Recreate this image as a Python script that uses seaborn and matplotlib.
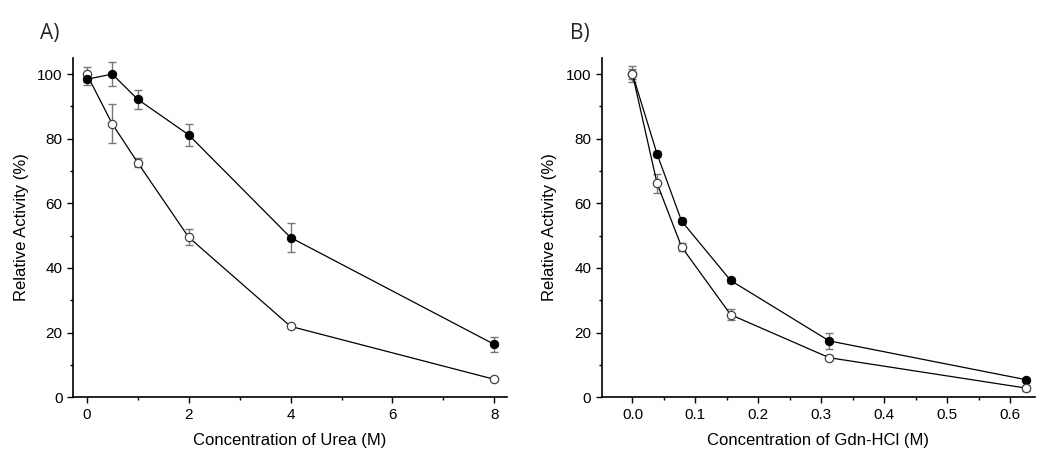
import numpy as np
import pandas as pd
import matplotlib
matplotlib.use("Agg")
import matplotlib.pyplot as plt
from matplotlib.ticker import MultipleLocator
import seaborn as sns

# ---- data ----
urea_conc = [0, 0.5, 1, 2, 4, 8]
urea_filled = [98.4, 100.0, 92.2, 81.2, 49.4, 16.3]
urea_filled_err = [1.8, 3.7, 3.0, 3.5, 4.6, 2.2]
urea_open = [100.0, 84.6, 72.6, 49.5, 21.9, 5.5]
urea_open_err = [2.3, 6.0, 1.4, 2.4, 0.5, 0.5]

gdn_conc = [0, 0.039, 0.078, 0.156, 0.3125, 0.625]
gdn_filled = [100.0, 75.3, 54.5, 36.1, 17.4, 5.4]
gdn_filled_err = [1.5, 1.0, 0.8, 0.8, 2.6, 0.5]
gdn_open = [100.0, 66.2, 46.5, 25.5, 12.2, 2.8]
gdn_open_err = [2.6, 3.0, 1.3, 1.7, 0.8, 0.8]

sns.set_theme(style="ticks")
plt.rcParams['font.family'] = ['Liberation Sans', 'DejaVu Sans']

fig = plt.figure(figsize=(10.5, 4.75), dpi=100)
axA = fig.add_axes([0.0695, 0.164, 0.413, 0.714])
axB = fig.add_axes([0.573, 0.164, 0.413, 0.714])


def draw(ax, x, yf, ef, yo, eo, open_on_top=False):
    df = pd.DataFrame({
        "x": list(x) + list(x),
        "y": list(yf) + list(yo),
        "series": ["filled"] * len(x) + ["open"] * len(x),
    })
    ax.errorbar(x, yf, yerr=ef, fmt="none", ecolor="#777777", elinewidth=1.0,
                capsize=3, capthick=1.0, zorder=2)
    ax.errorbar(x, yo, yerr=eo, fmt="none", ecolor="#777777", elinewidth=1.0,
                capsize=3, capthick=1.0, zorder=2)
    sns.lineplot(data=df[df.series == "open"], x="x", y="y", ax=ax,
                 color="black", linewidth=0.9, marker="o", markersize=6,
                 markerfacecolor="white", markeredgecolor="#444444",
                 markeredgewidth=0.9, zorder=5 if open_on_top else 3,
                 legend=False)
    sns.lineplot(data=df[df.series == "filled"], x="x", y="y", ax=ax,
                 color="black", linewidth=0.9, marker="o", markersize=6,
                 markerfacecolor="black", markeredgecolor="black",
                 zorder=4, legend=False)
    sns.despine(ax=ax)
    for s in ("left", "bottom"):
        ax.spines[s].set_linewidth(1.2)
        ax.spines[s].set_color("black")
    ax.set_ylim(0, 105)
    ax.yaxis.set_major_locator(MultipleLocator(20))
    ax.yaxis.set_minor_locator(MultipleLocator(10))
    ax.tick_params(which="major", direction="out", length=4.0, width=1.0,
                   labelsize=11, color="black", labelcolor="black", pad=3.5)
    ax.tick_params(which="minor", direction="out", length=2.3, width=1.0,
                   color="black")
    ax.set_ylabel("Relative Activity (%)", fontsize=12, labelpad=6,
                  color="black")


draw(axA, urea_conc, urea_filled, urea_filled_err, urea_open, urea_open_err)
axA.set_xlim(-0.27, 8.24)
axA.xaxis.set_major_locator(MultipleLocator(2))
axA.xaxis.set_minor_locator(MultipleLocator(1))
axA.set_xlabel("Concentration of Urea (M)", fontsize=12, labelpad=8,
               color="black")

draw(axB, gdn_conc, gdn_filled, gdn_filled_err, gdn_open, gdn_open_err,
     open_on_top=True)
axB.set_xlim(-0.049, 0.64)
axB.xaxis.set_major_locator(MultipleLocator(0.1))
axB.xaxis.set_minor_locator(MultipleLocator(0.05))
axB.xaxis.set_major_formatter(matplotlib.ticker.FormatStrFormatter("%.1f"))
axB.set_xlabel("Concentration of Gdn-HCl (M)", fontsize=12, labelpad=8,
               color="black")

fig.text(0.038, 0.93, "A)", fontsize=15, family=["Open Sans", "DejaVu Sans"],
         va="center", ha="left")
fig.text(0.543, 0.93, "B)", fontsize=15, family=["Open Sans", "DejaVu Sans"],
         va="center", ha="left")

fig.savefig("out.png", dpi=100)
